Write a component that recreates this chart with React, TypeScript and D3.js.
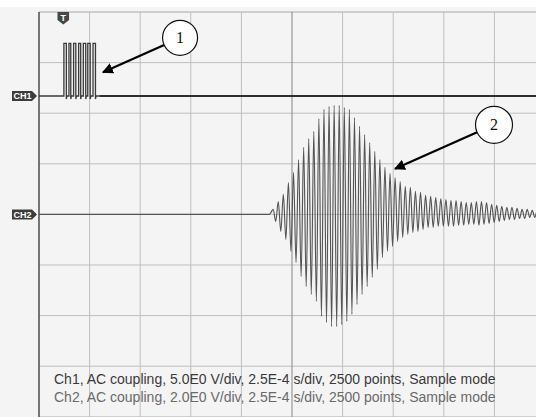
import React from 'react';
import * as d3 from 'd3';

// scope settings
const timePerDivUs = 250;
const divisionsX = 10;
const divisionsY = 8;
const ch1VoltsPerDiv = 5;
const ch2VoltsPerDiv = 2;
const ch1PositionDiv = 2.34;
const ch2PositionDiv = 0;
const triggerUs = 120;

// CH1: transmit burst (µs, V)
const ch1RiseUs = [123, 148, 171, 196, 219, 241, 267];
const ch1FallUs = [135, 157, 182, 206, 231, 253, 279];
const ch1HighV = 5.2;
const ch1UndershootV = -0.3;

// CH2: received echo, extrema read per cycle (V)
const ch2FirstPeakUs = 1157;
const ch2PeriodUs = 25.1;
const ch2Peaks = [0.20, 0.51, 0.79, 1.26, 1.66, 2.17, 2.65, 3.00, 3.28, 3.79, 4.15, 4.27, 4.31, 4.31, 4.23, 4.15, 3.83, 3.48, 3.16, 2.84, 2.49, 2.17, 1.86, 1.62, 1.46, 1.30, 1.11, 1.07, 0.91, 0.87, 0.75, 0.71, 0.67, 0.63, 0.59, 0.55, 0.55, 0.51, 0.47, 0.47, 0.51, 0.51, 0.47, 0.40, 0.36, 0.32, 0.28, 0.28, 0.24, 0.20, 0.20, 0.16, 0.16];
const ch2Troughs = [-0.28, -0.67, -0.99, -1.46, -1.90, -2.45, -2.85, -3.16, -3.44, -4.03, -4.27, -4.43, -4.43, -4.35, -4.23, -3.95, -3.56, -3.16, -2.85, -2.49, -2.17, -1.70, -1.46, -1.26, -1.07, -0.91, -0.79, -0.71, -0.67, -0.59, -0.51, -0.51, -0.47, -0.47, -0.47, -0.47, -0.43, -0.43, -0.40, -0.40, -0.43, -0.40, -0.36, -0.32, -0.28, -0.24, -0.20, -0.20, -0.16, -0.16, -0.12, -0.12, -0.12];

const infoLines = [
  'Ch1, AC coupling, 5.0E0 V/div, 2.5E-4 s/div, 2500 points, Sample mode',
  'Ch2, AC coupling, 2.0E0 V/div, 2.5E-4 s/div, 2500 points, Sample mode',
];

// callouts: label, circle centre (µs, div), arrow tip (µs, div)
const callouts = [
  { label: '1', cx: 697, cy: 3.49, r: 17.5, tx: 316, ty: 2.81 },
  { label: '2', cx: 2248, cy: 1.77, r: 18.5, tx: 1759, ty: 0.9 },
];

const W = 536;
const H = 417;

const App: React.FC = () => {
  const x = d3.scaleLinear().domain([0, timePerDivUs * divisionsX]).range([39, 545]);
  const y = d3.scaleLinear().domain([-divisionsY / 2, divisionsY / 2]).range([416.8, 12]);

  const ch1Y = (v: number) => y(ch1PositionDiv + v / ch1VoltsPerDiv);
  const ch2Y = (v: number) => y(ch2PositionDiv + v / ch2VoltsPerDiv);

  // CH1 burst path
  const ch1Pts: [number, number][] = [[0, 0]];
  ch1RiseUs.forEach((r, i) => {
    const f = ch1FallUs[i];
    ch1Pts.push([r, 0], [r, ch1HighV], [f, ch1HighV], [f, ch1UndershootV], [f + 3, 0]);
  });
  ch1Pts.push([timePerDivUs * divisionsX, 0]);
  const ch1Line = d3.line<[number, number]>().x(d => x(d[0])).y(d => ch1Y(d[1]));

  // CH2 echo path through extrema
  const ch2Pts: [number, number][] = [[0, 0], [ch2FirstPeakUs - ch2PeriodUs * 0.75, 0]];
  ch2Peaks.forEach((p, i) => {
    const t = ch2FirstPeakUs + i * ch2PeriodUs;
    ch2Pts.push([t, p]);
    if (i < ch2Troughs.length) ch2Pts.push([t + ch2PeriodUs / 2, ch2Troughs[i]]);
  });
  const ch2Line = d3.line<[number, number]>()
    .x(d => x(d[0]))
    .y(d => ch2Y(d[1]))
    .curve(d3.curveMonotoneX);

  const vTicks = d3.range(0, divisionsX + 1).map(i => i * timePerDivUs);
  const hTicks = d3.range(-divisionsY / 2, divisionsY / 2 + 1);

  const trigX = x(triggerUs);

  return (
    <svg width={W} height={H} style={{ position: 'absolute', left: 0, top: 0, display: 'block' }}>
      <defs>
        <marker id="ah" viewBox="0 0 10 10" refX="9" refY="5" markerWidth="5" markerHeight="5" orient="auto">
          <path d="M0,0 L10,5 L0,10 z" fill="#000" />
        </marker>
      </defs>
      <rect width={W} height={H} fill="#f4f4f4" />
      <rect width={W} height={7} fill="#ffffff" />

      {/* grid */}
      {hTicks.map(d => (
        <line key={'h' + d} x1={x(0)} x2={W} y1={y(d)} y2={y(d)}
          stroke={d === 4 ? '#a8a8a8' : '#bfbfbf'} strokeWidth={1} />
      ))}
      {vTicks.map(t => (
        <line key={'v' + t} x1={x(t)} x2={x(t)} y1={y(4)} y2={H}
          stroke={t === 0 ? '#555' : t === 1250 ? '#858585' : '#bfbfbf'}
          strokeWidth={t === 0 ? 1.6 : 1} />
      ))}

      {/* traces */}
      <path d={ch2Line(ch2Pts) || ''} fill="none" stroke="#555" strokeWidth={1.15} />
      <path d={ch1Line(ch1Pts) || ''} fill="none" stroke="#3a3a3a" strokeWidth={1.3} />
      <line x1={x(300)} x2={W} y1={ch1Y(0)} y2={ch1Y(0)} stroke="#2e2e2e" strokeWidth={1.8} />

      {/* trigger marker */}
      <g transform={`translate(${trigX},${y(4)})`}>
        <path d="M-5.8,0 L5.8,0 L5.8,8 L0,12.5 L-5.8,8 Z" fill="#474747" />
        <text x={0} y={8.5} textAnchor="middle" fontFamily="Liberation Sans, Arial, sans-serif"
          fontWeight="bold" fontSize={9} fill="#fff">T</text>
      </g>

      {/* channel labels */}
      {[{ n: 'CH1', yy: ch1Y(0) }, { n: 'CH2', yy: ch2Y(0) }].map(c => (
        <g key={c.n} transform={`translate(12,${c.yy})`}>
          <path d="M0,-5 L20,-5 L25,0 L20,5 L0,5 Z" fill="#3c3c3c" />
          <text x={10.5} y={3.4} textAnchor="middle" fontFamily="Liberation Sans, Arial, sans-serif"
            fontWeight="bold" fontSize={9} fill="#fff">{c.n}</text>
        </g>
      ))}

      {/* callouts */}
      {callouts.map(c => {
        const cx = x(c.cx), cy = y(c.cy), tx = x(c.tx), ty = y(c.ty);
        const ang = Math.atan2(ty - cy, tx - cx);
        const sx = cx + Math.cos(ang) * c.r, sy = cy + Math.sin(ang) * c.r;
        return (
          <g key={c.label}>
            <line x1={sx} y1={sy} x2={tx} y2={ty} stroke="#000" strokeWidth={2.2} markerEnd="url(#ah)" />
            <circle cx={cx} cy={cy} r={c.r} fill="#fff" stroke="#111" strokeWidth={1.2} />
            <text x={cx} y={cy + 5.5} textAnchor="middle" fontFamily="Liberation Serif, Times New Roman, serif"
              fontSize={16} fill="#111">{c.label}</text>
          </g>
        );
      })}

      {/* info text */}
      {infoLines.map((s, i) => (
        <text key={i} x={54} y={384 + i * 17.5} fontFamily="Liberation Sans, Arial, sans-serif"
          fontSize={14} fill={i === 0 ? '#3a3a3a' : '#6a6a6a'}>{s}</text>
      ))}
    </svg>
  );
};

export default App;
